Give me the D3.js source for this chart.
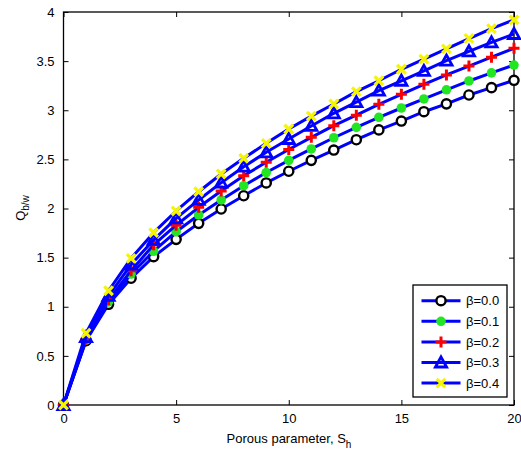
<!DOCTYPE html>
<html>
<head>
<meta charset="utf-8">
<script src="https://cdn.jsdelivr.net/npm/d3@7"></script>
<style>
  html, body { margin: 0; padding: 0; background: #fff; }
  svg { display: block; font-family: "Liberation Sans", Arial, sans-serif; }
</style>
</head>
<body>
<svg id="chart" width="521" height="452"></svg>
<script>
// Porous parameter S_h (x) and Q_b/w for each beta
const sh = [0,1,2,3,4,5,6,7,8,9,10,11,12,13,14,15,16,17,18,19,20];
const q00 = [0,0.654,1.025,1.29,1.51,1.686,1.849,1.995,2.13,2.26,2.379,2.49,2.595,2.70,2.80,2.89,2.985,3.065,3.155,3.23,3.305];
const q01 = [0,0.66,1.05,1.333,1.565,1.764,1.934,2.087,2.232,2.366,2.49,2.606,2.72,2.826,2.928,3.023,3.115,3.208,3.298,3.38,3.46];
const q02 = [0,0.67,1.07,1.367,1.63,1.83,2.012,2.178,2.334,2.47,2.60,2.724,2.843,2.95,3.06,3.162,3.264,3.36,3.45,3.54,3.63];
const q03 = [0,0.69,1.11,1.43,1.68,1.90,2.087,2.263,2.425,2.572,2.707,2.84,2.969,3.082,3.20,3.30,3.40,3.505,3.60,3.69,3.776];
const q04 = [0,0.73,1.163,1.493,1.754,1.975,2.171,2.351,2.511,2.663,2.809,2.94,3.064,3.19,3.30,3.417,3.52,3.625,3.73,3.83,3.92];
const seriesNames = ["\u03b2=0.0","\u03b2=0.1","\u03b2=0.2","\u03b2=0.3","\u03b2=0.4"];
const xTicks = [0,5,10,15,20];
const yTicks = [0,0.5,1,1.5,2,2.5,3,3.5,4];

const series = [
  {name: seriesNames[0], values: q00, marker: "circle"},
  {name: seriesNames[1], values: q01, marker: "dot"},
  {name: seriesNames[2], values: q02, marker: "plus"},
  {name: seriesNames[3], values: q03, marker: "triangle"},
  {name: seriesNames[4], values: q04, marker: "cross"}
];

const svg = d3.select("#chart");
const L = 63.5, R = 514, T = 12, B = 405;
const x = d3.scaleLinear().domain([0, 20]).range([L, R]);
const y = d3.scaleLinear().domain([0, 4]).range([B, T]);

// Axes box with inward ticks on all four sides
const tickLen = 5;
const gAx = svg.append("g");
gAx.append("rect").attr("x", L).attr("y", T).attr("width", R - L).attr("height", B - T)
  .attr("fill", "none").attr("stroke", "#000").attr("stroke-width", 1.3);

const xAxisB = d3.axisBottom(x).tickValues(xTicks).tickSizeInner(-tickLen).tickSizeOuter(0).tickPadding(9).tickFormat(d3.format("d"));
const xAxisT = d3.axisTop(x).tickValues(xTicks).tickSizeInner(-tickLen).tickSizeOuter(0).tickFormat("");
const yAxisL = d3.axisLeft(y).tickValues(yTicks).tickSizeInner(-tickLen).tickSizeOuter(0).tickPadding(9).tickFormat(d => d3.format("")(d));
const yAxisR = d3.axisRight(y).tickValues(yTicks).tickSizeInner(-tickLen).tickSizeOuter(0).tickFormat("");

function styleAxis(g) {
  g.select(".domain").remove();
  g.selectAll(".tick line").attr("stroke", "#000").attr("stroke-width", 1);
  g.selectAll(".tick text").attr("fill", "#000").style("font-size", "13px");
}
gAx.append("g").attr("transform", `translate(0,${B})`).call(xAxisB).call(styleAxis);
gAx.append("g").attr("transform", `translate(0,${T})`).call(xAxisT).call(styleAxis);
gAx.append("g").attr("transform", `translate(${L},0)`).call(yAxisL).call(styleAxis);
gAx.append("g").attr("transform", `translate(${R},0)`).call(yAxisR).call(styleAxis);

// Marker drawing
function drawMarker(g, type, cx, cy) {
  if (type === "circle") {
    g.append("circle").attr("cx", cx).attr("cy", cy).attr("r", 4.6)
      .attr("fill", "#fff").attr("stroke", "#000").attr("stroke-width", 2.4);
  } else if (type === "dot") {
    g.append("circle").attr("cx", cx).attr("cy", cy).attr("r", 4.8)
      .attr("fill", "#22e622").attr("stroke", "none");
  } else if (type === "plus") {
    const s = 5.5;
    g.append("path").attr("d", `M${cx - s},${cy}H${cx + s}M${cx},${cy - s}V${cy + s}`)
      .attr("stroke", "#ff0000").attr("stroke-width", 3).attr("fill", "none");
  } else if (type === "triangle") {
    const s = 5.6;
    g.append("path").attr("d", `M${cx},${cy - s}L${cx + s},${cy + s * 0.8}L${cx - s},${cy + s * 0.8}Z`)
      .attr("fill", "none").attr("stroke", "#0000ff").attr("stroke-width", 2.8).attr("stroke-linejoin", "miter");
  } else if (type === "cross") {
    const s = 4.3;
    g.append("path").attr("d", `M${cx - s},${cy - s}L${cx + s},${cy + s}M${cx - s},${cy + s}L${cx + s},${cy - s}`)
      .attr("stroke", "#f5f500").attr("stroke-width", 3.2).attr("fill", "none");
  }
}

const line = d3.line().x((d, i) => x(sh[i])).y(d => y(d));
const plot = svg.append("g");
series.forEach(s => {
  const g = plot.append("g");
  g.append("path").datum(s.values).attr("d", line)
    .attr("fill", "none").attr("stroke", "#0000ff").attr("stroke-width", 3).attr("stroke-linejoin", "round");
  s.values.forEach((v, i) => drawMarker(g, s.marker, x(sh[i]), y(v)));
});

// Legend
const lg = svg.append("g");
const lx = 413, ly = 285, lw = 94, lh = 112;
lg.append("rect").attr("x", lx).attr("y", ly).attr("width", lw).attr("height", lh)
  .attr("fill", "#fff").attr("stroke", "#000").attr("stroke-width", 1.3);
series.forEach((s, i) => {
  const cy = 300.7 + i * 20.6;
  lg.append("line").attr("x1", 421.5).attr("x2", 460.5).attr("y1", cy).attr("y2", cy)
    .attr("stroke", "#0000ff").attr("stroke-width", 3);
  drawMarker(lg, s.marker, 441, cy);
  lg.append("text").attr("x", 466).attr("y", cy + 4.6).text(s.name)
    .style("font-size", "13px").attr("fill", "#000");
});

// Axis titles
const xt = svg.append("text").attr("x", 289).attr("y", 443).attr("text-anchor", "middle")
  .style("font-size", "13px").attr("fill", "#000");
xt.append("tspan").text("Porous parameter, S");
xt.append("tspan").attr("dy", 5).style("font-size", "10px").text("h");

const yt = svg.append("text").attr("transform", "translate(25,208) rotate(-90)")
  .attr("text-anchor", "middle").style("font-size", "13px").attr("fill", "#000");
yt.append("tspan").text("Q");
yt.append("tspan").attr("dy", 4).style("font-size", "10px").text("b/w");
</script>
</body>
</html>
